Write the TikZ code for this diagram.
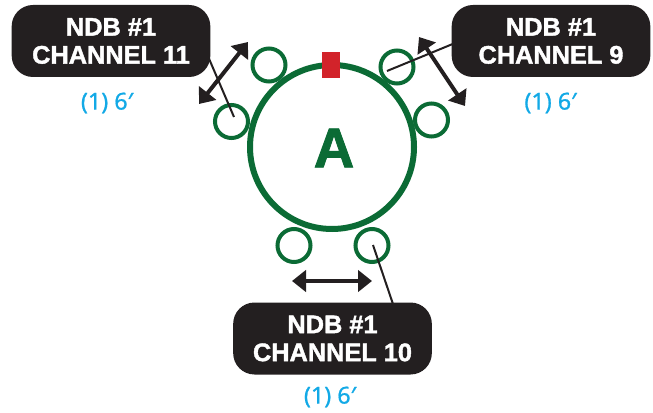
\documentclass[tikz,border=0pt]{standalone}
\usepackage{fontspec}
\usetikzlibrary{arrows.meta}
\newfontfamily\boxfont{Liberation Sans}[BoldFeatures={FakeBold=1.6}]
\newfontfamily\bluefont{Noto Sans}[FakeBold=0.8]
\definecolor{ringgreen}{HTML}{0B6B35}
\definecolor{boxblack}{HTML}{231F20}
\definecolor{cyanblue}{HTML}{12A9E6}
\definecolor{markred}{HTML}{D2232A}
\tikzset{
  ring/.style={circle, draw=ringgreen, line width=3pt, minimum size=24.75pt, inner sep=0pt, fill=white},
  labelbox/.style={rounded corners=16pt, fill=boxblack, text=white, minimum width=149pt, minimum height=54pt, align=center, inner sep=0pt, font=\boxfont\bfseries\fontsize{19}{21}\selectfont},
  qty/.style={text=cyanblue, inner sep=0pt, font=\bluefont\fontsize{17.5}{20}\selectfont},
  dbl/.style={{Triangle[length=10.5pt,width=16pt]}-{Triangle[length=10.5pt,width=16pt]}, line width=3pt, draw=boxblack},
  leader/.style={line width=1.5pt, draw=boxblack}
}
\begin{document}
\begin{tikzpicture}[x=0.75pt,y=-0.75pt]
\useasboundingbox (0,0) rectangle (653,413);
% main ring
\node[circle, draw=ringgreen, line width=4.5pt, minimum size=123pt, inner sep=0pt] (big) at (332,147) {};
\node[text=ringgreen, inner sep=0pt, font=\boxfont\bfseries\fontsize{42}{42}\selectfont] (lblA) at (334,148) {A};
% small rings
\node[ring] (sTL) at (269,65) {};
\node[ring] (sL) at (231.5,121.5) {};
\node[ring] (sTR) at (397,67) {};
\node[ring] (sR) at (431.5,120) {};
\node[ring] (sBL) at (294,245.5) {};
\node[ring] (sBR) at (372,245.5) {};
% red marker
\node[fill=markred, minimum width=13.5pt, minimum height=19.5pt, inner sep=0pt] (mark) at (331,65) {};
% leader lines
\coordinate (pL) at (234,117);
\coordinate (qL) at (204,47);
\coordinate (pTR) at (387,71);
\coordinate (qTR) at (460,41);
\coordinate (pBR) at (373,245);
\coordinate (qBR) at (395,310);
\draw[leader] (pL) -- (qL);
\draw[leader] (pTR) -- (qTR);
\draw[leader] (pBR) -- (qBR);
% double arrows
\coordinate (aTL1) at (199,104);
\coordinate (aTL2) at (248,42);
\coordinate (aTR1) at (419,37);
\coordinate (aTR2) at (465,106);
\coordinate (aB1) at (292,281);
\coordinate (aB2) at (372,281);
\draw[dbl] (aTL1) -- (aTL2);
\draw[dbl] (aTR1) -- (aTR2);
\draw[dbl] (aB1) -- (aB2);
% label boxes
\node[labelbox] (b11) at (111,41) {NDB \#1\\CHANNEL 11};
\node[labelbox] (b9) at (551,41) {NDB \#1\\CHANNEL 9};
\node[labelbox] (b10) at (332.5,338.5) {NDB \#1\\CHANNEL 10};
% quantities
\node[qty] (q11) at (107,103) {(1) 6′};
\node[qty] (q9) at (550.5,103) {(1) 6′};
\node[qty] (q10) at (330,397) {(1) 6′};
\end{tikzpicture}
\end{document}
